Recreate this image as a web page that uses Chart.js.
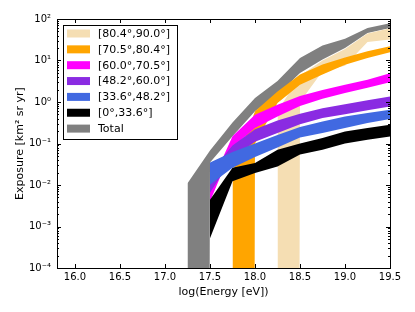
<!DOCTYPE html>
<html><head><meta charset="utf-8">
<script src="https://cdn.jsdelivr.net/npm/chart.js@4/dist/chart.umd.min.js"></script>
<style>html,body{margin:0;padding:0;background:#fff;}</style>
</head><body>
<canvas id="c" width="415" height="312"></canvas>
<script>
// ---- data ----
const energies = [17.25, 17.5, 17.75, 18.0, 18.25, 18.5, 18.75, 19.0, 19.25, 19.5];

const beigeLow    = [null, null, null, null, 0,    1.0,  5.5,  7.5,  28,   32];
const beigeHigh   = [null, null, null, null, 0.6,  4.3,  10,   19,   45,   60];
const orangeLow   = [null, null, 0,    0.1,  0.95, 2.6,  4.6,  7.9,  11.5, 15.7];
const orangeHigh  = [null, null, 0.02, 0.6,  1.8,  4.6,  8.0,  11.8, 16.6, 21.9];
const magentaLow  = [null, 0.004,  0.08,  0.235, 0.45, 0.8,  1.2,  1.65, 2.2,  3.0];
const magentaHigh = [null, 0.0093, 0.15,  0.49,  0.86, 1.4,  1.95, 2.6,  3.45, 4.9];
const purpleLow   = [null, 0.0065, 0.045, 0.11,  0.18, 0.29, 0.41, 0.51, 0.63, 0.78];
const purpleHigh  = [null, 0.02,   0.09,  0.22,  0.36, 0.52, 0.71, 0.885, 1.1, 1.36];
const blueLow     = [null, 0.0102, 0.026, 0.047, 0.08, 0.14, 0.18, 0.235, 0.31, 0.39];
const blueHigh    = [null, 0.035,  0.062, 0.10,  0.16, 0.25, 0.34, 0.45, 0.54, 0.65];
const blackLow    = [null, 0.00052, 0.0123, 0.0195, 0.028, 0.054, 0.071, 0.10, 0.123, 0.148];
const blackHigh   = [null, 0.0044,  0.026,  0.034,  0.071, 0.10,  0.135, 0.195, 0.235, 0.284];
const totalLow    = [0,     0.035, 0.15, 0.6,  1.5, 5.0,  10.5, 20,   46, 61];
const totalHigh   = [0.011, 0.068, 0.32, 1.25, 3.2, 11.5, 23,   33.5, 61, 79];

const bandLabels = ['[80.4°,90.0°]', '[70.5°,80.4°]', '[60.0°,70.5°]', '[48.2°,60.0°]', '[33.6°,48.2°]', '[0°,33.6°]', 'Total'];
const bandColors = ['#f5deb3', '#ffa500', '#ff00ff', '#8a2be2', '#4169e1', '#000000', '#808080'];

const xTickValues = [16.0, 16.5, 17.0, 17.5, 18.0, 18.5, 19.0, 19.5];
const xTickLabels = ['16.0', '16.5', '17.0', '17.5', '18.0', '18.5', '19.0', '19.5'];
const yTickValues = [1e-4, 1e-3, 1e-2, 1e-1, 1e0, 1e1, 1e2];
const yTickLabels = ['10⁻⁴', '10⁻³', '10⁻²', '10⁻¹', '10⁰', '10¹', '10²'];

// ---- build datasets ----
const ZERO_ON_LOG = 1e-200; // zero exposure drawn like matplotlib's clipped log value
function toPoints(arr) {
  const pts = [];
  energies.forEach((e, i) => { if (arr[i] !== null) pts.push({x: e, y: arr[i] === 0 ? ZERO_ON_LOG : arr[i]}); });
  return pts;
}
const bandData = [
  [beigeLow, beigeHigh], [orangeLow, orangeHigh], [magentaLow, magentaHigh],
  [purpleLow, purpleHigh], [blueLow, blueHigh], [blackLow, blackHigh], [totalLow, totalHigh]
];
// drawing order (back -> front): Total, beige, orange, magenta, purple, blue, black
const drawOrder = [6, 5, 4, 3, 2, 1, 7];
const datasets = [];
bandData.forEach(([lo, hi], k) => {
  const common = {pointRadius: 0, pointHoverRadius: 0, borderWidth: 0, tension: 0, order: drawOrder[k]};
  datasets.push(Object.assign({label: bandLabels[k] + ' low', data: toPoints(lo), fill: false,
    borderColor: bandColors[k], backgroundColor: bandColors[k]}, common));
  datasets.push(Object.assign({label: bandLabels[k], data: toPoints(hi), fill: '-1',
    borderColor: bandColors[k], backgroundColor: bandColors[k]}, common));
});

const FONT = 'DejaVu Sans';

const framePlugin = {
  id: 'frame',
  afterDraw(chart) {
    const {ctx, chartArea: a, scales: {x, y}} = chart;
    ctx.save();
    ctx.strokeStyle = '#000';
    ctx.lineWidth = 1;
    ctx.beginPath();
    xTickValues.forEach(v => {
      const px = Math.round(x.getPixelForValue(v)) + 0.5;
      ctx.moveTo(px, a.bottom); ctx.lineTo(px, a.bottom - 4);
      ctx.moveTo(px, a.top); ctx.lineTo(px, a.top + 4);
    });
    yTickValues.forEach((v, i) => {
      for (let m = 1; m <= 9; m++) {
        if (m > 1 && i === yTickValues.length - 1) break;
        const py = Math.round(y.getPixelForValue(v * m)) + 0.5;
        const len = m === 1 ? 4 : 2;
        ctx.moveTo(a.left, py); ctx.lineTo(a.left + len, py);
        ctx.moveTo(a.right, py); ctx.lineTo(a.right - len, py);
      }
    });
    ctx.stroke();
    ctx.strokeRect(Math.round(a.left) + 0.5, Math.round(a.top) + 0.5,
                   Math.round(a.right - a.left), Math.round(a.bottom - a.top));
    // legend (matplotlib style, upper left inside the axes)
    const lx = a.left + 6, ly = a.top + 6, lw = 114, lh = 114;
    ctx.fillStyle = '#fff';
    ctx.fillRect(lx, ly, lw, lh);
    ctx.strokeRect(Math.round(lx) + 0.5, Math.round(ly) + 0.5, lw, lh);
    ctx.font = '11px "' + FONT + '"';
    ctx.textBaseline = 'middle';
    ctx.textAlign = 'left';
    bandLabels.forEach((lab, i) => {
      const cy = ly + 8.5 + i * 15.85;
      ctx.fillStyle = bandColors[i];
      ctx.fillRect(lx + 4, cy - 4, 23, 8);
      ctx.fillStyle = '#000';
      ctx.fillText(lab, lx + 35, cy + 0.5);
    });
    ctx.restore();
  }
};

new Chart(document.getElementById('c'), {
  type: 'line',
  data: {datasets},
  options: {
    responsive: false,
    animation: false,
    devicePixelRatio: 1,
    layout: {padding: {top: 19, right: 25, bottom: 0, left: 0}},
    plugins: {legend: {display: false}, tooltip: {enabled: false}},
    scales: {
      x: {
        type: 'linear', min: 15.8, max: 19.5,
        afterBuildTicks: s => { s.ticks = xTickValues.map(v => ({value: v})); },
        afterFit: s => { s.height = 44; },
        ticks: {autoSkip: false, maxRotation: 0, padding: 3, color: '#000',
          font: {family: FONT, size: 10},
          callback: (v, i) => xTickLabels[i]},
        grid: {display: false, drawTicks: false},
        border: {display: false},
        title: {display: true, text: 'log(Energy [eV])', color: '#000',
          font: {family: FONT, size: 11}, padding: {top: 0, bottom: 13}}
      },
      y: {
        type: 'logarithmic', min: 1e-4, max: 100,
        afterBuildTicks: s => { s.ticks = yTickValues.map(v => ({value: v})); },
        afterFit: s => { s.width = 57; },
        ticks: {autoSkip: false, padding: 6, color: '#000',
          font: {family: FONT, size: 10},
          callback: (v, i) => yTickLabels[i]},
        grid: {display: false, drawTicks: false},
        border: {display: false},
        title: {display: true, text: 'Exposure [km² sr yr]', color: '#000',
          font: {family: FONT, size: 11}, padding: {top: 14, bottom: 0}}
      }
    }
  },
  plugins: [framePlugin]
});
</script>
</body></html>
